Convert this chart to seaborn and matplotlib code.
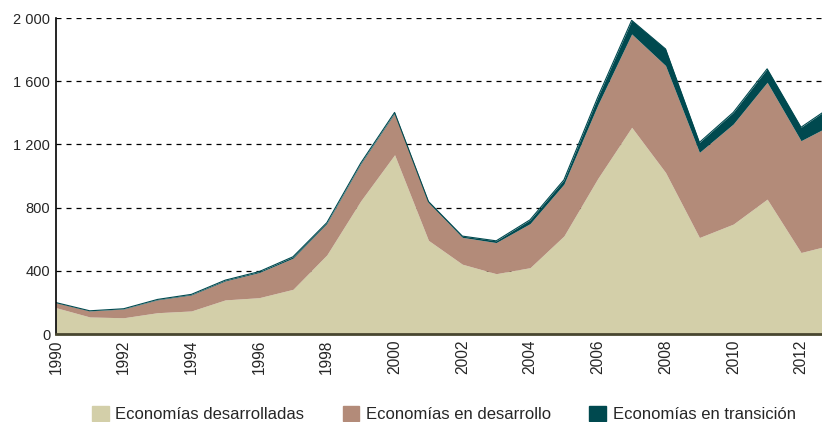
import matplotlib
matplotlib.use("Agg")
import matplotlib.pyplot as plt
import matplotlib.patches as mpatches
import seaborn as sns
import numpy as np

years = list(range(1990, 2014))
developed = [167, 108, 103, 135, 146, 216, 230, 283, 501, 843, 1135, 593,
             442, 382, 420, 621, 985, 1309, 1023, 611, 696, 854, 516, 570]
developing = [31, 38, 55, 81, 101, 120, 159, 197, 198, 233, 262, 240,
              170, 197, 279, 328, 465, 591, 677, 539, 634, 740, 708, 765]
transition = [1, 1, 2, 3, 4, 5, 6, 9, 6, 6, 6, 6,
              8, 11, 24, 27, 50, 86, 105, 63, 73, 85, 85, 120]
labels = ["Economías desarrolladas", "Economías en desarrollo", "Economías en transición"]
colors = ["#D3CFA9", "#B38B79", "#00494F"]
yticks = [0, 400, 800, 1200, 1600, 2000]
ytick_labels = ["0", "400", "800", "1 200", "1 600", "2 000"]

sns.set_style("white")
plt.rcParams['font.family'] = ['Liberation Sans', 'DejaVu Sans']

fig = plt.figure(figsize=(8.22, 4.22), dpi=100)
ax = fig.add_axes([0.068, 0.2085, 0.932, 0.7485])

ax.stackplot(years, developed, developing, transition, colors=colors,
             linewidth=0, zorder=2)
total = np.array(developed) + np.array(developing) + np.array(transition)
sns.lineplot(x=years, y=total, color=colors[2], linewidth=0.8, ax=ax, zorder=3)

for y in yticks[1:]:
    ax.axhline(y, color="black", linestyle=(0, (4, 4)), linewidth=0.9, zorder=1)

ax.set_xlim(1990, 2012.62)
ax.set_ylim(0, 2000)
ax.set_yticks(yticks)
ax.set_yticklabels(ytick_labels, fontsize=10.5)
ax.set_xticks(years[::2][:12])
ax.set_xticklabels([str(y) for y in years[::2][:12]], rotation=90, fontsize=11.2)
ax.tick_params(axis="both", length=0, pad=4)

sns.despine(ax=ax, top=True, right=True)
ax.spines["left"].set_color("black")
ax.spines["left"].set_linewidth(1.2)
ax.spines["bottom"].set_color("#48462F")
ax.spines["bottom"].set_linewidth(2)
ax.spines["left"].set_zorder(5)
ax.spines["bottom"].set_zorder(5)

handles = [mpatches.Patch(color=c, label=l) for c, l in zip(colors, labels)]
fig.legend(handles=handles, loc="lower center", bbox_to_anchor=(0.54, -0.035), ncol=3,
           frameon=False, handlelength=1.0, handleheight=1.0, handletextpad=0.4,
           columnspacing=2.3,
           prop={"family": ["Liberation Sans Narrow", "Liberation Sans"], "size": 12})

fig.savefig("out.png", dpi=100)
